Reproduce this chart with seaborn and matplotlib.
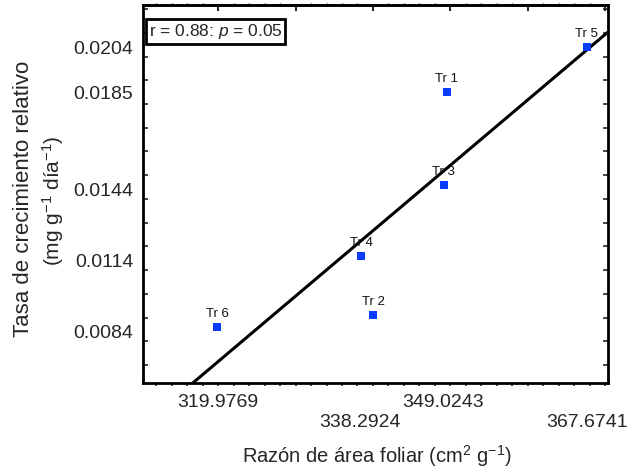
import matplotlib
matplotlib.use("Agg")
import matplotlib.pyplot as plt
import seaborn as sns
import numpy as np
import pandas as pd
from matplotlib.ticker import MultipleLocator, FixedLocator

# Data
labels = ["Tr 1", "Tr 2", "Tr 3", "Tr 4", "Tr 5", "Tr 6"]
x_vals = [349.55, 340.0, 349.15, 338.5, 367.6, 319.9]
y_vals = [0.0185, 0.0091, 0.0146, 0.0116, 0.0204, 0.0086]
x_tick_vals = [319.9769, 338.2924, 349.0243, 367.6741]
x_tick_labels = ["319.9769", "\n338.2924", "349.0243", "\n367.6741"]
y_tick_vals = [0.0084, 0.0114, 0.0144, 0.0185, 0.0204]
y_tick_labels = ["0.0084", "0.0114", "0.0144", "0.0185", "0.0204"]

df = pd.DataFrame({"x": x_vals, "y": y_vals, "label": labels})

sns.set_style("white")
plt.rcParams["font.family"] = ["Liberation Sans", "DejaVu Sans"]
plt.rcParams["mathtext.fontset"] = "custom"
plt.rcParams["mathtext.rm"] = "Liberation Sans"
plt.rcParams["mathtext.it"] = "Liberation Sans:italic"

fig = plt.figure(figsize=(6.34, 4.69), dpi=100)
ax = fig.add_axes([143/634, 1-383/469, (608-143)/634, (383-5)/469])

xlim = (310.3, 370.35)
ylim = (0.00625, 0.02217)
ax.set_xlim(*xlim)
ax.set_ylim(*ylim)

sns.regplot(data=df, x="x", y="y", ax=ax, ci=None, truncate=False, scatter=False,
            line_kws=dict(color="black", lw=2.2, solid_capstyle="butt"))
sns.scatterplot(data=df, x="x", y="y", ax=ax, marker="s", s=26, color="#0a3cff",
                linewidth=0, zorder=5)

for lab, xx, yy in zip(labels, x_vals, y_vals):
    ax.annotate(lab, (xx, yy), xytext=(0, 5), textcoords="offset points",
                ha="center", va="bottom", fontsize=9.5, color="#111111", zorder=6)

ax.set_xlim(*xlim)
ax.set_ylim(*ylim)

for sp in ax.spines.values():
    sp.set_linewidth(2)
    sp.set_color("black")
    sp.set_visible(True)

ax.xaxis.set_major_locator(FixedLocator(x_tick_vals))
ax.set_xticklabels(x_tick_labels)
ax.xaxis.set_minor_locator(MultipleLocator(2))
ax.yaxis.set_major_locator(FixedLocator(y_tick_vals))
ax.set_yticklabels(y_tick_labels)
ax.yaxis.set_minor_locator(MultipleLocator(0.001))

ax.tick_params(axis="x", which="major", length=0, pad=8, labelsize=14)
ax.tick_params(axis="x", which="minor", direction="out", length=2, width=1.2, bottom=True)
ax.tick_params(axis="y", which="major", length=0, pad=7, labelsize=14)
ax.tick_params(axis="y", which="minor", direction="in", length=3.5, width=1.2,
               left=True, right=True)

ax.set_xlabel("")
ax.set_ylabel("")

# top axis ticks every 10
top = ax.secondary_xaxis("top")
top.xaxis.set_major_locator(MultipleLocator(10))
top.xaxis.set_minor_locator(MultipleLocator(2))
top.tick_params(which="major", direction="in", length=4, width=1.5, labeltop=False)
top.tick_params(which="minor", direction="out", length=1.5, width=1)
top.spines["top"].set_linewidth(2)
top.set_xticklabels([])

ax.text(0.012, 0.955, r"r = 0.88: $p$ = 0.05", transform=ax.transAxes, fontsize=12.5,
        ha="left", va="top",
        bbox=dict(boxstyle="square,pad=0.15", fc="white", ec="black", lw=2))

fig.text(377/634, 1-456/469, r"Razón de área foliar (cm$^{2}$ g$^{-1}$)",
         ha="center", va="center", fontsize=14.5)
fig.text(24/634, 1-199/469, "Tasa de crecimiento relativo", rotation=90,
         ha="center", va="center", fontsize=16)
fig.text(53/634, 1-201/469, r"(mg g$^{-1}$ día$^{-1}$)", rotation=90,
         ha="center", va="center", fontsize=15)

fig.savefig("out.png", dpi=100)
